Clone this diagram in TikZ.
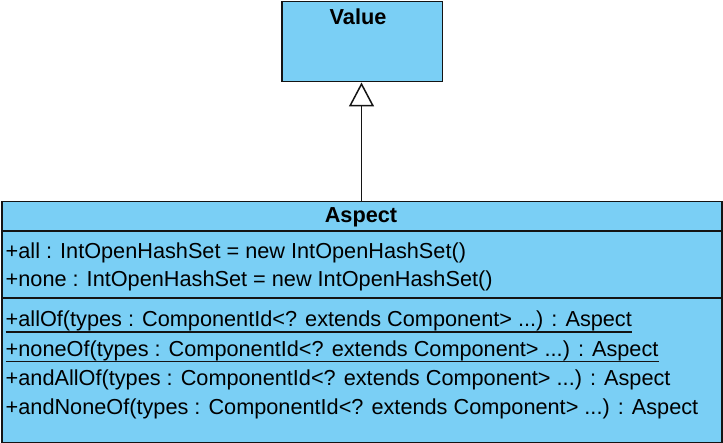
\documentclass[tikz,border=0pt]{standalone}
\usepackage{fontspec}
\setmainfont{Liberation Sans}
\usetikzlibrary{arrows.meta}
\definecolor{umlblue}{RGB}{122,207,245}
\definecolor{umlline}{RGB}{20,20,20}
\tikzset{
  classbox/.style={draw=umlline, fill=umlblue, line width=1.5pt, rectangle, inner sep=0pt},
  sepline/.style={draw=umlline, line width=1.5pt},
  member/.style={inner sep=0pt, anchor=base west, font=\fontsize{21.7pt}{26pt}\selectfont},
  title/.style={inner sep=0pt, anchor=base, font=\fontsize{21.7pt}{26pt}\selectfont\bfseries},
  ul/.style={draw=umlline, line width=1.4pt},
  gen/.style={draw=umlline, line width=1.5pt, -{Triangle[open, length=24pt, width=25pt, line width=1.5pt]}}
}
\begin{document}
\begin{tikzpicture}[x=1pt, y=-1pt]
\useasboundingbox (0,0) rectangle (723,443);
% Value class
\node[classbox, anchor=north west, minimum width=160.5pt, minimum height=80pt] (value) at (281,1) {};
\node[title] (valuetitle) at (358,25) {Value};
% Aspect class
\node[classbox, anchor=north west, minimum width=720pt, minimum height=241pt] (aspect) at (1,201) {};
\node[title] (aspecttitle) at (361,222.7) {Aspect};
\coordinate (s1w) at (1,231); \coordinate (s1e) at (721,231);
\coordinate (s2w) at (1,298); \coordinate (s2e) at (721,298);
\draw[sepline] (s1w) -- (s1e);
\draw[sepline] (s2w) -- (s2e);
% attributes
\node[member] (a1) at (5.5,259) {+all : IntOpenHashSet = new IntOpenHashSet()};
\node[member] (a2) at (5.5,287) {+none : IntOpenHashSet = new IntOpenHashSet()};
% methods
\node[member] (m1) at (5.5,327) {+allOf(types : ComponentId<? extends Component> ...) : Aspect};
\node[member] (m2) at (5.5,356.5) {+noneOf(types : ComponentId<? extends Component> ...) : Aspect};
\node[member] (m3) at (5.5,386) {+andAllOf(types : ComponentId<? extends Component> ...) : Aspect};
\node[member] (m4) at (5.5,415) {+andNoneOf(types : ComponentId<? extends Component> ...) : Aspect};
\draw[ul] ([yshift=-5pt]m1.base west) -- ([yshift=-5pt]m1.base east);
\draw[ul] ([yshift=-5pt]m2.base west) -- ([yshift=-5pt]m2.base east);
% generalization
\draw[gen] (aspect.north -| 361.5,0) -- (value.south -| 361.5,0);
\end{tikzpicture}
\end{document}
